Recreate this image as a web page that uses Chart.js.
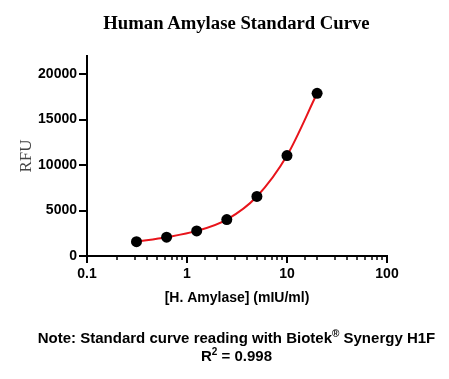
<!DOCTYPE html>
<html>
<head>
<meta charset="utf-8">
<script src="https://cdn.jsdelivr.net/npm/chart.js@4"></script>
<style>
  body { margin: 0; background: #fff; }
  .wrap { position: relative; width: 449px; height: 379px; }
  .title { position: absolute; left: 12px; width: 449px; top: 12px; text-align: center;
    font: bold 18.7px "Liberation Serif", serif; color: #000; }
  .note { position: absolute; left: 12px; width: 449px; text-align: center;
    font: bold 15px "Liberation Sans", Arial, sans-serif; color: #000; }
  .note sup { font-size: 10px; vertical-align: 6px; line-height: 0; }
</style>
</head>
<body>
<div class="wrap">
  <canvas id="chart" width="449" height="379"></canvas>
  <div class="title">Human Amylase Standard Curve</div>
  <div class="note" style="top:329px">Note: Standard curve reading with Biotek<sup>®</sup> Synergy H1F</div>
  <div class="note" style="top:347px">R<sup>2</sup> = 0.998</div>
</div>

<script>
    // concentrations in mIU/ml, 2-fold dilutions
    const concentrations = [0.3125, 0.625, 1.25, 2.5, 5, 10, 20];
    const rfu = [1580, 2070, 2760, 4010, 6550, 11050, 17900];
    const yTicks = [0, 5000, 10000, 15000, 20000];
    const xTickLabels = [0.1, 1, 10, 100];

    const isDecade = v => xTickLabels.some(d => Math.abs(d - v) / d < 1e-6);

    // draw tick marks ourselves so minor log ticks can be shorter
    const tickMarks = {
        id: "tickMarks",
        afterDraw(chart) {
            const ctx = chart.ctx;
            const x = chart.scales.x, y = chart.scales.y;
            ctx.save();
            ctx.strokeStyle = "#000";
            x.ticks.forEach(t => {
                const px = Math.round(x.getPixelForValue(t.value));
                const major = isDecade(t.value);
                ctx.lineWidth = major ? 2 : 1.5;
                ctx.beginPath();
                ctx.moveTo(px, x.top);
                ctx.lineTo(px, x.top + (major ? 7 : 4));
                ctx.stroke();
            });
            ctx.lineWidth = 2;
            yTicks.forEach(v => {
                const py = Math.round(y.getPixelForValue(v));
                ctx.beginPath();
                ctx.moveTo(y.right, py);
                ctx.lineTo(y.right - 8, py);
                ctx.stroke();
            });
            ctx.restore();
        }
    };

    new Chart(document.getElementById("chart"), {
        type: "line",
        data: {
            labels: concentrations,
            datasets: [{
                data: concentrations.map((c, i) => ({ x: c, y: rfu[i] })),
                borderColor: "#e8141b",
                borderWidth: 2,
                cubicInterpolationMode: "monotone",
                pointRadius: 5.5,
                pointBackgroundColor: "#000",
                pointBorderColor: "#000",
                pointBorderWidth: 0
            }]
        },
        options: {
            responsive: false,
            animation: false,
            layout: { padding: { left: 16, right: 62, top: 56, bottom: 72 } },
            plugins: { legend: { display: false }, tooltip: { enabled: false } },
            scales: {
                x: {
                    type: "logarithmic",
                    min: 0.1,
                    max: 100,
                    grid: { display: false },
                    border: { display: true, color: "#000", width: 2 },
                    ticks: {
                        autoSkip: false,
                        maxRotation: 0,
                        padding: 2,
                        color: "#000",
                        font: { family: "Liberation Sans", size: 14, weight: "bold" },
                        callback: v => isDecade(v) ? String(v) : ""
                    },
                    title: {
                        display: true,
                        text: "[H. Amylase] (mIU/ml)",
                        color: "#000",
                        padding: { top: 6, bottom: 0 },
                        font: { family: "Liberation Sans", size: 14, weight: "bold" }
                    },
                    afterFit: s => { s.height = 51; }
                },
                y: {
                    min: 0,
                    max: 22000,
                    grid: { display: false },
                    border: { display: true, color: "#000", width: 2 },
                    afterBuildTicks: s => { s.ticks = yTicks.map(v => ({ value: v })); },
                    ticks: {
                        padding: 2,
                        color: "#000",
                        font: { family: "Liberation Sans", size: 14, weight: "bold" },
                        callback: v => String(v)
                    },
                    title: {
                        display: true,
                        text: "RFU",
                        color: "#444",
                        padding: { top: 0, bottom: 0 },
                        font: { family: "Liberation Serif", size: 17, weight: "normal" }
                    },
                    afterFit: s => { s.width = 71; }
                }
            }
        },
        plugins: [tickMarks]
    });
</script>
</body>
</html>
